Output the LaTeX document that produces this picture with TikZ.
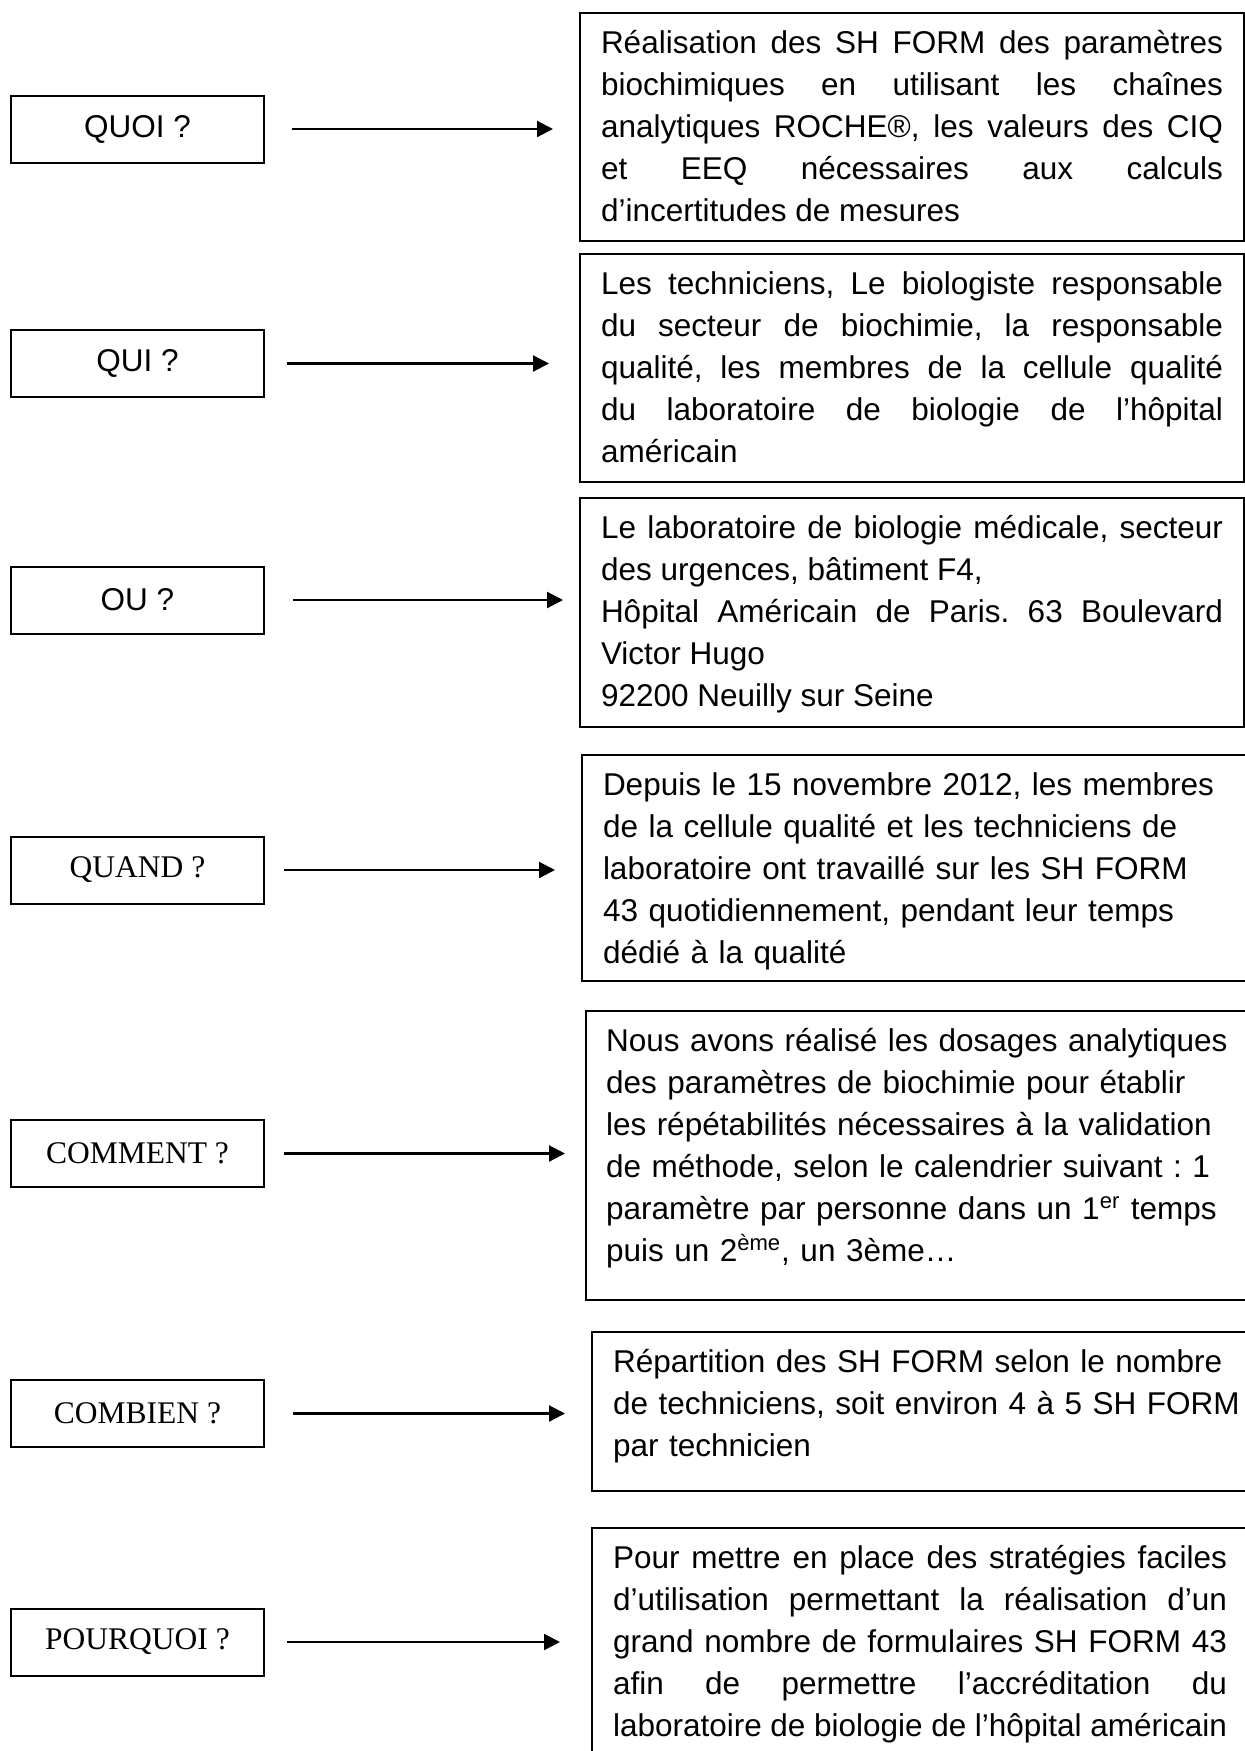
\documentclass[tikz,border=0pt]{standalone}
\usepackage{fontspec}
\setmainfont{Liberation Sans}
\newfontfamily\timesq{Liberation Serif}
\usetikzlibrary{arrows.meta, calc}
\newcommand{\boxsize}{\fontsize{15.75pt}{21pt}\selectfont\frenchspacing\hyphenpenalty=10000}

\begin{document}
\begin{tikzpicture}[x=0.5pt, y=-0.5pt,
	every node/.style={font=\boxsize},
	question/.style={draw, line width=1pt, minimum width=126.5pt, minimum height=33.5pt, inner sep=0pt, outer sep=0pt},
	serifq/.style={font=\timesq\boxsize},
	answer/.style={draw, line width=1pt, anchor=north west, inner xsep=10.5pt, inner ysep=0pt, outer sep=0pt, text height=20pt, text width=311pt, align=justify},
	note/.style={answer, text width=320pt, align=left},
	arr/.style={line width=1.1pt, -{Triangle[length=8pt,width=8pt]}}]
	\useasboundingbox (0,0) rectangle (1245,1751);

	\node[question] (quoi) at (137.5,129) {QUOI ?};
	\node[question] (qui) at (137.5,363.5) {QUI ?};
	\node[question] (ou) at (137.5,600) {OU ?};
	\node[question, serifq] (quand) at (137.5,870) {QUAND ?};
	\node[question, serifq] (comment) at (137.5,1153.5) {COMMENT ?};
	\node[question, serifq] (combien) at (137.5,1413.5) {COMBIEN ?};
	\node[question, serifq] (pourquoi) at (137.5,1642) {POURQUOI ?};

	\node[answer, text depth=94pt] (r1) at (580,13) {R\'ealisation des SH FORM des param\`etres \linebreak
		biochimiques en utilisant les cha\^ines \linebreak
		analytiques ROCHE®, les valeurs des CIQ \linebreak
		et EEQ n\'ecessaires aux calculs \linebreak
		d’incertitudes de mesures};
	\node[answer, text depth=94pt] (r2) at (580,254) {Les techniciens, Le biologiste responsable \linebreak
		du secteur de biochimie, la responsable \linebreak
		qualit\'e, les membres de la cellule qualit\'e \linebreak
		du laboratoire de biologie de l’h\^opital \linebreak
		am\'ericain};
	\node[answer, text depth=94.5pt] (r3) at (580,498) {Le laboratoire de biologie m\'edicale, secteur \linebreak
		des urgences, b\^atiment F4,\\
		H\^opital Am\'ericain de Paris. 63 Boulevard \linebreak
		Victor Hugo\\
		92200 Neuilly sur Seine};
	\node[note, text depth=93pt] (r4) at (582,755) {Depuis le 15 novembre 2012, les membres\\
		de la cellule qualit\'e et les techniciens de\\
		laboratoire ont travaill\'e sur les SH FORM\\
		43 quotidiennement, pendant leur temps\\
		d\'edi\'e \`a la qualit\'e};
	\node[note, text depth=124.5pt, inner xsep=10pt] (r5) at (586,1011) {Nous avons r\'ealis\'e les dosages analytiques\\
		des param\`etres de biochimie pour \'etablir\\
		les r\'ep\'etabilit\'es n\'ecessaires \`a la validation\\
		de m\'ethode, selon le calendrier suivant : 1\\
		param\`etre par personne dans un 1\textsuperscript{er} temps\\
		puis un 2\textsuperscript{\`eme}, un 3\`eme…};
	\node[note, text depth=59.5pt] (r6) at (592,1332) {R\'epartition des SH FORM selon le nombre\\
		de techniciens, soit environ 4 \`a 5 SH FORM\\
		par technicien};
	\node[answer, text depth=100pt, text width=307pt] (r7) at (592,1528) {Pour mettre en place des strat\'egies faciles \linebreak
		d’utilisation permettant la r\'ealisation d’un \linebreak
		grand nombre de formulaires SH FORM 43 \linebreak
		afin de permettre l’accr\'editation du \linebreak
		laboratoire de biologie de l’h\^opital am\'ericain};

	\draw[arr] ($(quoi.east)+(28,0)$) -- ($(quoi.east -| r1.west)+(-27,0)$);
	\draw[arr] ($(qui.east)+(23,0)$) -- ($(qui.east -| r2.west)+(-31,0)$);
	\draw[arr] ($(ou.east)+(29,0)$) -- ($(ou.east -| r3.west)+(-17,0)$);
	\draw[arr] ($(quand.east)+(20,0)$) -- ($(quand.east -| r4.west)+(-27,0)$);
	\draw[arr] ($(comment.east)+(20,0)$) -- ($(comment.east -| r5.west)+(-21,0)$);
	\draw[arr] ($(combien.east)+(29,0)$) -- ($(combien.east -| r6.west)+(-27,0)$);
	\draw[arr] ($(pourquoi.east)+(23,0)$) -- ($(pourquoi.east -| r7.west)+(-32,0)$);
\end{tikzpicture}
\end{document}
